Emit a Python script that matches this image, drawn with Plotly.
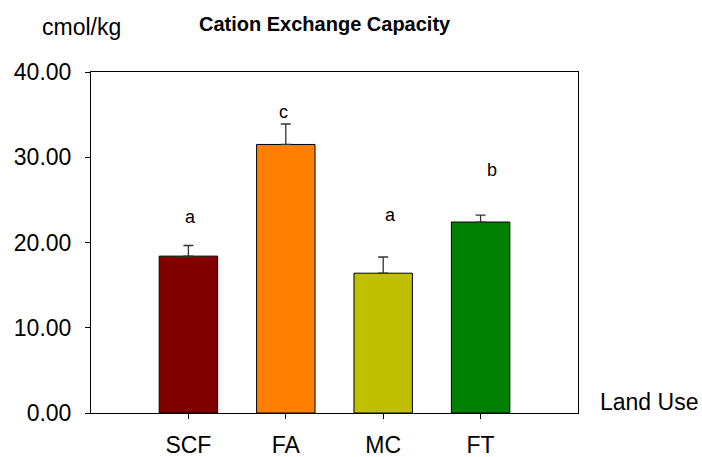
import plotly.graph_objects as go

categories = ["SCF", "FA", "MC", "FT"]
means = [18.4, 31.5, 16.4, 22.4]
std_err = [1.25, 2.4, 1.9, 0.8]
bar_colors = ["#800000", "#FF8000", "#C0C000", "#008000"]
letters = ["a", "c", "a", "b"]
letter_y = [23.0, 35.3, 23.2, 28.5]
letter_xshift = [2, -2, 7, 11]
y_ticks = [0, 10, 20, 30, 40]

FONT = "Liberation Sans, Arial, sans-serif"

fig = go.Figure()
fig.add_trace(go.Bar(
    x=categories, y=means,
    marker=dict(color=bar_colors, line=dict(color="black", width=1)),
    width=0.6,
    error_y=dict(type="data", array=std_err, symmetric=False, arrayminus=[0]*len(std_err),
                 color="#333333", thickness=1.3, width=5),
    showlegend=False,
))

for cat, lt, ly, dx in zip(categories, letters, letter_y, letter_xshift):
    fig.add_annotation(x=cat, y=ly, text=lt, showarrow=False, xshift=dx,
                       font=dict(family=FONT, size=18, color="black"))

fig.add_annotation(xref="paper", yref="paper", x=0.48, y=1.142, text="<b>Cation Exchange Capacity</b>",
                   showarrow=False, xanchor="center", yanchor="middle",
                   font=dict(family=FONT, size=20, color="black"))
fig.add_annotation(xref="paper", yref="paper", x=-0.105, y=1.131, text="cmol/kg",
                   showarrow=False, xanchor="left", yanchor="middle",
                   font=dict(family=FONT, size=23, color="black"))
fig.add_annotation(xref="paper", yref="paper", x=1.041, y=0.032, text="Land Use",
                   showarrow=False, xanchor="left", yanchor="middle",
                   font=dict(family=FONT, size=23, color="black"))

fig.update_layout(
    width=702, height=457,
    margin=dict(l=91, r=124, t=72, b=44, autoexpand=False),
    paper_bgcolor="white", plot_bgcolor="white",
    font=dict(family=FONT, size=23, color="black"),
    xaxis=dict(range=[-1, 4], showline=True, linecolor="black", linewidth=1, mirror=True,
               ticks="outside", ticklen=5, tickcolor="black", showgrid=False,
               tickfont=dict(size=23), ticklabelstandoff=6, automargin=False),
    yaxis=dict(range=[0, 40], tickvals=y_ticks, tickformat=".2f", showline=True,
               linecolor="black", linewidth=1, mirror=True, ticks="outside", ticklen=5,
               tickcolor="black", showgrid=False, zeroline=False,
               tickfont=dict(size=23), ticklabelstandoff=9, automargin=False),
)

fig.write_html("out.html", config={"displayModeBar": False},
               post_script="document.body.style.margin='0';")
